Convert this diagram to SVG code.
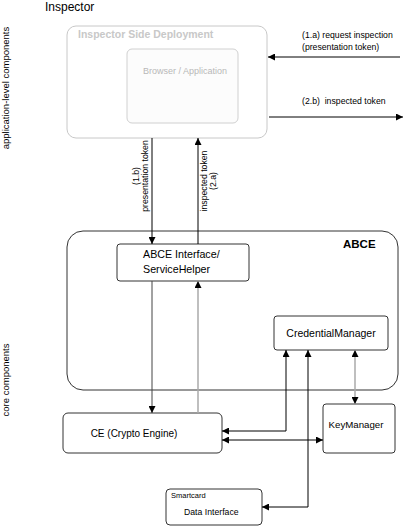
<svg xmlns="http://www.w3.org/2000/svg" width="405" height="526" viewBox="0 0 405 526">
<defs>
<style>
text{font-family:"Liberation Sans",Arial,sans-serif;fill:#000}
.box{fill:#fff;stroke:#333;stroke-width:1}
.ghost{fill:#fff;stroke:#c8c8c8;stroke-width:1}
.ln{fill:none;stroke:#000;stroke-width:1}
.gl{fill:none;stroke:#aaa;stroke-width:1.5}
.lbl{font-size:8.7px}
</style>
<marker id="ah" viewBox="0 0 10 10" refX="10" refY="5" markerWidth="7" markerHeight="7" markerUnits="userSpaceOnUse" orient="auto-start-reverse">
<path d="M0,0L10,5L0,10z" fill="#000"/>
</marker>
</defs>
<rect width="405" height="526" fill="#fff"/>
<text x="45" y="11" font-size="12">Inspector</text>
<text transform="translate(9,88) rotate(-90)" font-size="9.5" text-anchor="middle">application-level components</text>
<text transform="translate(9,380) rotate(-90)" font-size="9.5" text-anchor="middle">core components</text>

<g id="inspector-side">
<rect class="ghost" x="67" y="26" width="200" height="112" rx="9"/>
<text x="78" y="38" font-size="10.5" font-weight="bold" style="fill:#c8c8c8">Inspector Side Deployment</text>
</g>
<g id="browser">
<rect class="ghost" x="127" y="49" width="111" height="74" rx="5" style="fill:#fcfcfc;stroke:#d0d0d0"/>
<text x="143" y="74" font-size="9" style="fill:#b8b8b8">Browser / Application</text>
</g>
<g id="abce">
<rect class="box" x="67" y="231" width="331" height="159" rx="16"/>
<text x="343" y="248" font-size="11.5" font-weight="bold">ABCE</text>
</g>
<g id="abce-interface">
<rect class="box" x="117" y="244" width="132" height="37" rx="3"/>
<text x="143" y="258" font-size="10.7">ABCE Interface/</text>
<text x="143" y="273" font-size="10.7">ServiceHelper</text>
</g>
<g id="credential-manager">
<rect class="box" x="274" y="316" width="114" height="34" rx="3"/>
<text x="331" y="337" font-size="10.5" text-anchor="middle">CredentialManager</text>
</g>
<g id="ce">
<rect class="box" x="63" y="413" width="159" height="40" rx="5"/>
<text x="134" y="437" font-size="10" text-anchor="middle">CE (Crypto Engine)</text>
</g>
<g id="key-manager">
<rect class="box" x="323" y="404" width="72" height="49" rx="3"/>
<text x="356" y="428" font-size="9.7" text-anchor="middle">KeyManager</text>
</g>
<g id="smartcard">
<rect class="box" x="166" y="489" width="96" height="36" rx="4"/>
<text x="171" y="498" font-size="7.5">Smartcard</text>
<text x="184" y="515" font-size="8.7">Data Interface</text>
</g>

<g id="connectors">
<path class="ln" d="M400,57H268" marker-end="url(#ah)"/>
<text class="lbl" x="302" y="38">(1.a) request inspection</text>
<text class="lbl" x="302" y="50">(presentation token)</text>
<path class="ln" d="M269,117H403" marker-end="url(#ah)"/>
<text class="lbl" x="302" y="104" xml:space="preserve">(2.b)  inspected token</text>

<path class="ln" d="M152,138V244" marker-end="url(#ah)"/>
<text class="lbl" transform="translate(139,176) rotate(-90)" text-anchor="middle">(1.b)</text>
<text class="lbl" transform="translate(148,176) rotate(-90)" text-anchor="middle">presentation token</text>
<path class="ln" d="M198,244V138" marker-end="url(#ah)"/>
<text class="lbl" transform="translate(207,181) rotate(-90)" text-anchor="middle">inspected token</text>
<text class="lbl" transform="translate(216,181) rotate(-90)" text-anchor="middle">(2.a)</text>

<path class="ln" d="M152,281V413" style="stroke:#444" marker-end="url(#ah)"/>
<path class="gl" d="M198,413V281" marker-end="url(#ah)"/>
<path class="ln" d="M222,431H286V350" marker-start="url(#ah)" marker-end="url(#ah)"/>
<path class="ln" d="M262,507H308V350" marker-start="url(#ah)" marker-end="url(#ah)"/>
<path class="ln" d="M222,440H323" marker-start="url(#ah)" marker-end="url(#ah)"/>
<path class="gl" d="M355,350V404" marker-start="url(#ah)" marker-end="url(#ah)"/>
</g>
</svg>
